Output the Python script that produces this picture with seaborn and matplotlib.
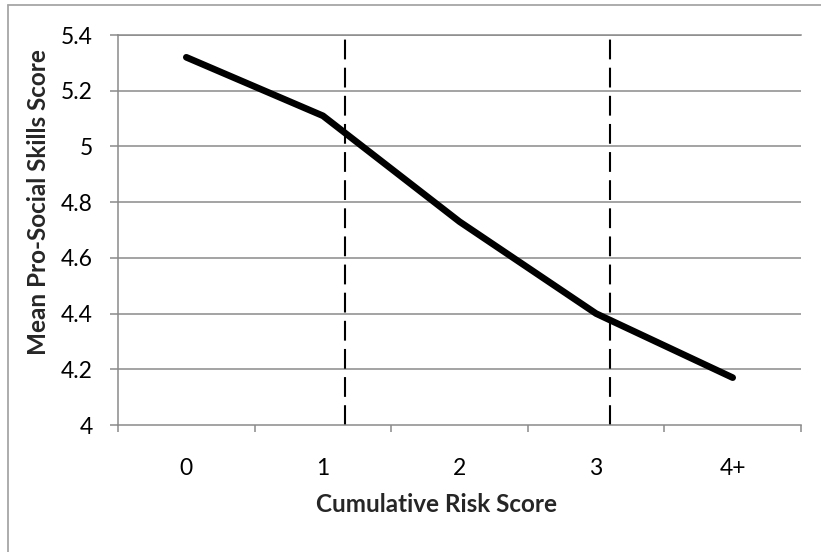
import matplotlib
matplotlib.use("Agg")
import matplotlib.pyplot as plt
import seaborn as sns
import pandas as pd
import numpy as np
from matplotlib.lines import Line2D

# Mean pro-social skills by cumulative risk group
risk_groups = ["0", "1", "2", "3", "4+"]
mean_scores = [5.32, 5.11, 4.73, 4.40, 4.17]
# Positions of the dashed cut-off markers along the category axis
cutoffs = [1.16, 3.10]
y_ticks = [4.0, 4.2, 4.4, 4.6, 4.8, 5.0, 5.2, 5.4]

df = pd.DataFrame({"Cumulative Risk Score": risk_groups,
                   "Mean Pro-Social Skills Score": mean_scores})

sns.set_style("white")
plt.rcParams["font.family"] = ["Lato", "DejaVu Sans"]

W, H = 821, 552
fig = plt.figure(figsize=(W / 100, H / 100), dpi=100)
ax = fig.add_axes([118 / W, 1 - 425 / H, 683 / W, 390 / H])

grid_col = "#8a8a8a"
for y in y_ticks[1:]:
    ax.axhline(y, color=grid_col, lw=1.1, zorder=1)

sns.lineplot(data=df, x="Cumulative Risk Score", y="Mean Pro-Social Skills Score",
             ax=ax, color="black", lw=4.8, sort=False, zorder=3,
             solid_capstyle="round", solid_joinstyle="round")

for c in cutoffs:
    ax.axvline(c, color="black", lw=1.5, linestyle=(0, (9.5, 4.0)), zorder=2)

ax.set_xlim(-0.5, len(risk_groups) - 0.5)
ax.set_ylim(4.0, 5.4)

# Category boundaries carry the tick marks; labels sit at the centres
ax.set_xticks(np.arange(-0.5, len(risk_groups)), labels=[""] * (len(risk_groups) + 1))
ax.set_xticks(np.arange(len(risk_groups)), labels=risk_groups, minor=True)
ax.tick_params(axis="x", which="major", direction="out", length=5, width=1.1,
               color=grid_col, bottom=True)
ax.tick_params(axis="x", which="minor", length=0, pad=24, labelsize=16.5,
               labelcolor="black")

ax.set_yticks(y_ticks, labels=[f"{v:g}" for v in y_ticks])
ax.tick_params(axis="y", direction="out", length=6, width=1.1, color=grid_col,
               left=True, pad=12, labelsize=16.5, labelcolor="black")

ax.spines["right"].set_visible(False)
for side in ["left", "bottom", "top"]:
    ax.spines[side].set_color(grid_col)
    ax.spines[side].set_linewidth(1.1)

ax.set_xlabel("Cumulative Risk Score", fontsize=17.5, fontweight="bold", va="center")
ax.set_ylabel("Mean Pro-Social Skills Score", fontsize=17.5, fontweight="bold", va="center")
ax.xaxis.set_label_coords(0.466, -0.205)
ax.yaxis.set_label_coords(-0.117, 0.572)

# Chart frame
frame_col = "#a6a6a6"
fig.add_artist(Line2D([8 / W, 8 / W], [0, 1 - 5 / H], transform=fig.transFigure,
                      color=frame_col, lw=1.3))
fig.add_artist(Line2D([8 / W, 1], [1 - 5 / H, 1 - 5 / H], transform=fig.transFigure,
                      color=frame_col, lw=1.3))

fig.savefig("out.png", dpi=100, facecolor="white")
